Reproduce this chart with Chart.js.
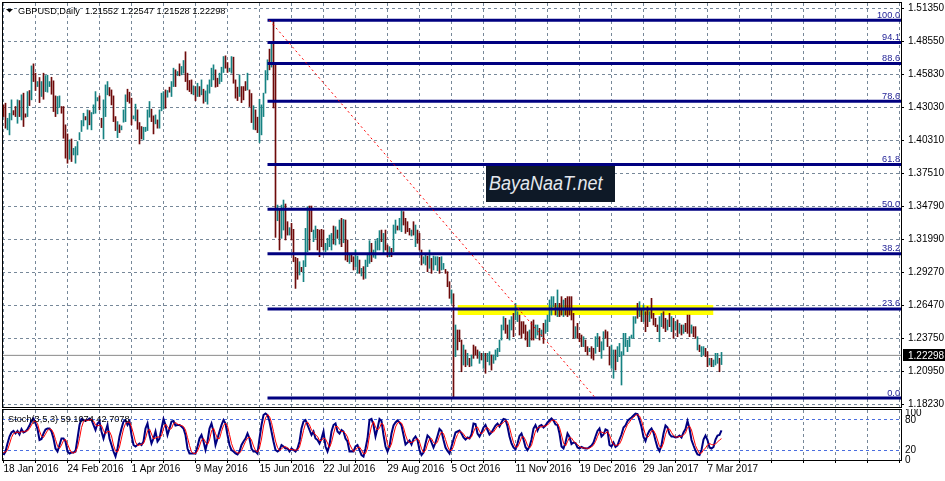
<!DOCTYPE html>
<html>
<head>
<meta charset="utf-8">
<script src="https://cdn.jsdelivr.net/npm/chart.js@4.4.1/dist/chart.umd.min.js"></script>
<style>
html,body{margin:0;padding:0;background:#fff;overflow:hidden;}
#wrap{position:relative;width:945px;height:481px;background:#fff;}
#main{position:absolute;left:0;top:0;}
#stoch{position:absolute;left:0;top:409px;}
#logo{position:absolute;left:486px;top:166px;width:129px;height:36px;background:#0e1927;overflow:hidden;}
#logo span{position:absolute;left:3px;top:6px;font:italic 20px "Liberation Sans",Arial,sans-serif;color:#e4e8ee;transform:scaleX(.9);transform-origin:left top;white-space:nowrap;}
</style>
</head>
<body>
<div id="wrap">
  <canvas id="main" width="945" height="409"></canvas>
  <canvas id="stoch" width="945" height="72"></canvas>
  <div id="logo"><span>BayaNaaT.net</span></div>
</div>
<script>
// ── DATA ──────────────────────────────────────────────────────
// one daily bar per index, bar 0 = 18 Jan 2016 (sunday bars included)
var highs=[
1.4325,1.4339,1.4213,1.4255,1.4367,1.4277,1.4311,1.4367,1.4361,1.4409,
1.4423,1.4250,1.4436,1.4445,1.4651,1.4668,1.4590,1.4520,1.4554,1.4520,
1.4590,1.4570,1.4573,1.4520,1.4556,1.4526,1.4400,1.4395,1.4400,1.4311,
1.4311,1.4158,1.4082,1.4032,1.4040,1.3962,1.3976,1.4018,1.4093,1.4194,
1.4255,1.4227,1.4283,1.4277,1.4261,1.4325,1.4436,1.4386,1.4400,1.4213,
1.4367,1.4492,1.4520,1.4470,1.4450,1.4400,1.4227,1.4185,1.4158,1.4149,
1.4283,1.4409,1.4456,1.4431,1.4381,1.4233,1.4331,1.4283,1.4177,1.4144,
1.4138,1.4138,1.4283,1.4353,1.4289,1.4233,1.4241,1.4199,1.4283,1.4423,
1.4436,1.4450,1.4445,1.4473,1.4520,1.4632,1.4618,1.4604,1.4668,1.4646,
1.4696,1.4769,1.4590,1.4529,1.4534,1.4484,1.4478,1.4506,1.4478,1.4534,
1.4456,1.4442,1.4492,1.4534,1.4632,1.4660,1.4618,1.4548,1.4590,1.4640,
1.4729,1.4735,1.4679,1.4632,1.4729,1.4724,1.4534,1.4473,1.4576,1.4478,
1.4478,1.4520,1.4590,1.4450,1.4420,1.4318,1.4283,1.4222,1.4372,1.4325,
1.4423,1.4612,1.4702,1.4791,1.4842,1.5026,1.4658,1.3487,1.3460,1.3487,
1.3529,1.3496,1.3348,1.3298,1.3334,1.3284,1.3050,1.3041,1.3013,1.2966,
1.3022,1.3292,1.3473,1.3479,1.3479,1.3278,1.3312,1.3284,1.3278,1.3284,
1.3278,1.3167,1.3209,1.3236,1.3250,1.3312,1.3306,1.3278,1.3362,1.3376,
1.3367,1.3362,1.3195,1.3069,1.3069,1.3055,1.3111,1.3061,1.3027,1.2958,
1.2972,1.3027,1.3083,1.3189,1.3167,1.3111,1.3189,1.3209,1.3273,1.3278,
1.3250,1.3278,1.3153,1.3139,1.3125,1.3320,1.3362,1.3312,1.3376,1.3440,
1.3432,1.3376,1.3348,1.3292,1.3278,1.3348,1.3320,1.3278,1.3250,1.3111,
1.3055,1.3083,1.3061,1.3111,1.3041,1.3061,1.3055,1.3055,1.3050,1.3055,
1.2999,1.2949,1.2930,1.2846,1.2777,1.2745,1.2484,1.2442,1.2442,1.2358,
1.2316,1.2275,1.2247,1.2205,1.2233,1.2316,1.2303,1.2275,1.2261,1.2247,
1.2247,1.2247,1.2247,1.2261,1.2233,1.2233,1.2275,1.2289,1.2358,1.2484,
1.2554,1.2540,1.2484,1.2526,1.2554,1.2581,1.2665,1.2595,1.2567,1.2512,
1.2512,1.2484,1.2428,1.2442,1.2512,1.2526,1.2484,1.2484,1.2456,1.2442,
1.2498,1.2526,1.2567,1.2693,1.2721,1.2721,1.2665,1.2777,1.2665,1.2721,
1.2693,1.2707,1.2721,1.2721,1.2721,1.2581,1.2470,1.2498,1.2414,1.2400,
1.2386,1.2358,1.2303,1.2289,1.2303,1.2289,1.2386,1.2414,1.2386,1.2344,
1.2428,1.2442,1.2428,1.2303,1.2316,1.2275,1.2275,1.2303,1.2330,1.2261,
1.2414,1.2414,1.2358,1.2386,1.2400,1.2554,1.2554,1.2665,1.2679,1.2623,
1.2651,1.2595,1.2637,1.2595,1.2707,1.2581,1.2540,1.2484,1.2554,1.2581,
1.2595,1.2540,1.2526,1.2581,1.2554,1.2540,1.2512,1.2526,1.2498,1.2484,
1.2484,1.2498,1.2567,1.2567,1.2484,1.2470,1.2470,1.2386,1.2316,1.2303,
1.2303,1.2289,1.2261,1.2205,1.2205,1.2191,1.2247,1.2247,1.2205,1.22547];
var lows=[
1.4227,1.4130,1.4116,1.4074,1.4199,1.4241,1.4227,1.4171,1.4227,1.4199,
1.4144,1.4222,1.4227,1.4319,1.4367,1.4520,1.4445,1.4478,1.4344,1.4395,
1.4372,1.4436,1.4431,1.4478,1.4414,1.4269,1.4227,1.4250,1.4303,1.4255,
1.4046,1.3879,1.3837,1.3870,1.3851,1.3906,1.3837,1.3906,1.4032,1.4102,
1.4149,1.4199,1.4121,1.4158,1.4116,1.4250,1.4255,1.4358,1.4283,1.4135,
1.4040,1.4227,1.4409,1.4400,1.4325,1.4185,1.4110,1.4051,1.4093,1.4116,
1.4180,1.4185,1.4353,1.4339,1.4158,1.4208,1.4191,1.4121,1.3998,1.4040,
1.4032,1.4102,1.4110,1.4222,1.4185,1.4082,1.4166,1.4130,1.4130,1.4275,
1.4289,1.4297,1.4389,1.4431,1.4395,1.4478,1.4478,1.4570,1.4568,1.4576,
1.4590,1.4520,1.4450,1.4436,1.4417,1.4409,1.4361,1.4395,1.4395,1.4409,
1.4339,1.4353,1.4331,1.4423,1.4478,1.4534,1.4473,1.4478,1.4501,1.4520,
1.4596,1.4632,1.4596,1.4604,1.4590,1.4506,1.4381,1.4361,1.4395,1.4344,
1.4367,1.4445,1.4450,1.4311,1.4177,1.4120,1.4116,1.4093,1.4010,1.4074,
1.4227,1.4423,1.4534,1.4618,1.4641,1.4299,1.3217,1.3356,1.3111,1.3209,
1.3278,1.3195,1.3236,1.3236,1.3195,1.3013,1.2790,1.2866,1.2902,1.2930,
1.2846,1.2972,1.3097,1.3111,1.3264,1.3181,1.3209,1.3111,1.3055,1.3139,
1.3111,1.3097,1.3111,1.3139,1.3111,1.3161,1.3153,1.3209,1.3161,1.3139,
1.3172,1.3027,1.3013,1.2999,1.3013,1.2944,1.2972,1.2916,1.2916,1.2894,
1.2866,1.2874,1.2972,1.2999,1.3013,1.3050,1.3041,1.3111,1.3111,1.3181,
1.3083,1.3111,1.3055,1.3055,1.3055,1.3097,1.3250,1.3278,1.3278,1.3264,
1.3320,1.3250,1.3264,1.3236,1.3228,1.3236,1.3139,1.3167,1.3111,1.2986,
1.2999,1.2986,1.2930,1.2958,1.2916,1.2944,1.2986,1.2938,1.2916,1.2944,
1.2949,1.2916,1.2804,1.2707,1.2665,1.1876,1.2219,1.2275,1.2344,1.2093,
1.2149,1.2135,1.2149,1.2135,1.2141,1.2205,1.2233,1.2205,1.2163,1.2191,
1.2121,1.2080,1.2177,1.2149,1.2107,1.2163,1.2191,1.2219,1.2261,1.2358,
1.2442,1.2414,1.2372,1.2358,1.2442,1.2386,1.2526,1.2512,1.2400,1.2372,
1.2414,1.2358,1.2303,1.2303,1.2358,1.2358,1.2372,1.2400,1.2358,1.2386,
1.2330,1.2414,1.2428,1.2512,1.2567,1.2637,1.2567,1.2554,1.2554,1.2567,
1.2554,1.2567,1.2554,1.2567,1.2526,1.2372,1.2372,1.2372,1.2344,1.2303,
1.2303,1.2261,1.2233,1.2261,1.2205,1.2191,1.2247,1.2303,1.2261,1.2205,
1.2275,1.2372,1.2303,1.2149,1.2121,1.2038,1.2107,1.2177,1.2219,1.1982,
1.2233,1.2303,1.2261,1.2303,1.2372,1.2372,1.2498,1.2540,1.2554,1.2512,
1.2512,1.2428,1.2470,1.2512,1.2540,1.2484,1.2470,1.2428,1.2344,1.2470,
1.2456,1.2428,1.2442,1.2470,1.2428,1.2372,1.2442,1.2386,1.2414,1.2400,
1.2414,1.2428,1.2414,1.2386,1.2414,1.2386,1.2372,1.2275,1.2261,1.2219,
1.2233,1.2219,1.2135,1.2149,1.2135,1.2135,1.2149,1.2163,1.2093,1.21528];
// u = bar closed up, d = bar closed down
var dirs=('dduuuddudu'+'ddududdudu'+'duuuddduud'+'ddduduuuuu'+'ududuuuudd'+'uuuddddudu'+
  'uuddduuddd'+'uuuudduduu'+'ududuududu'+'uddddududu'+'duuuuudduu'+'udduudddud'+
  'dduddudduu'+'uuududdudu'+'udduddddud'+'uuudduuddd'+'duuuududud'+'uddudduudu'+
  'duuuduuuud'+'udduduuduu'+'ddddududdd'+'uududuuudu'+'udddududdd'+'udududddud'+
  'uduuduuuuu'+'udduuduudd'+'dddudduudu'+'duuuuududd'+'uddddduddd'+'uddudduudu'+
  'uddduuduuu'+'uuuuuuudud'+'uddudddduu'+'ddudududud'+'uddduddudu'+'udduduuudu').split('');

var stochMain=[
10,17,33,47,55,58,53,58,51,62, 55,57,62,69,79,83,73,62,40,42,
53,61,63,63,57,43,23,17,30,43, 43,37,17,13,15,15,17,43,70,82,
80,78,80,83,80,70,60,73,77,57, 43,57,70,43,30,17,7,23,47,63,
77,80,70,77,50,30,27,30,33,30, 37,63,73,50,33,43,57,37,43,63,
82,70,50,63,77,78,69,70,70,67, 63,50,23,13,13,13,13,27,43,50,
37,20,37,63,73,57,30,43,57,70, 80,73,50,30,20,17,13,11,17,30,
37,43,53,43,23,17,17,13,43,70, 90,93,90,77,57,37,20,17,20,30,
27,23,23,17,23,20,17,23,37,63, 77,80,70,60,50,57,43,40,33,43,
57,27,17,30,57,70,73,57,53,60, 57,43,37,17,17,17,27,30,20,10,
7,23,43,80,82,70,47,63,82,78, 50,27,17,27,53,69,75,79,75,69,
50,31,35,39,31,42,47,40,20,10, 15,33,49,45,35,25,35,48,62,58,
40,25,18,13,27,41,55,57,59,53, 45,41,45,43,51,73,72,53,47,55,
65,70,60,51,55,62,69,73,67,75, 82,81,67,47,33,25,21,33,48,53,
41,26,20,27,41,63,70,59,68,70, 65,69,75,79,83,79,71,70,53,27,
23,35,53,46,32,35,34,25,23,26, 24,23,23,26,29,35,47,58,63,47,
51,61,59,30,27,35,26,29,41,51, 65,69,78,82,85,89,93,92,80,66,
46,38,51,59,63,55,39,25,18,30, 53,69,65,52,47,47,45,46,49,45,
55,62,78,63,40,29,19,11,10,20, 41,49,40,25,23,26,41,49,50,59.1074];
var stochSignal=[
15,16,20,32,45,53,55,56,54,57, 56,58,58,63,70,77,78,73,58,48,
45,52,59,62,61,54,41,28,23,30, 39,41,32,22,15,14,16,25,43,65,
77,80,79,80,81,78,70,68,70,69, 59,52,57,57,48,30,18,16,26,44,
62,73,76,76,66,52,36,29,30,31, 33,43,58,62,52,42,44,46,46,48,
63,72,67,61,63,73,75,72,70,69, 67,60,45,29,16,13,13,18,28,40,
43,36,31,40,58,64,53,43,43,57, 69,74,68,51,33,22,17,14,14,19,
28,37,44,46,40,28,19,16,24,42, 68,84,91,87,75,57,38,25,19,22,
26,27,24,21,21,20,20,20,26,41, 59,73,76,70,60,56,50,47,39,39,
44,42,34,25,35,52,67,67,61,57, 57,53,46,32,24,17,20,25,26,20,
12,13,24,49,68,77,66,60,64,74, 70,52,31,24,32,50,66,74,76,74,
65,50,39,35,35,37,40,43,36,23, 15,19,32,42,43,35,32,36,48,56,
53,41,28,19,19,27,41,51,57,56, 52,46,44,43,46,56,65,66,57,52,
56,63,65,60,55,56,62,68,70,72, 75,79,77,65,49,35,26,26,34,45,
47,40,29,24,29,44,58,64,66,66, 68,68,70,74,79,80,78,73,65,50,
34,28,37,45,44,38,34,31,27,25, 24,24,23,24,26,30,37,47,56,56,
54,53,57,50,39,31,29,30,32,40, 52,62,71,76,82,85,89,91,88,79,
64,50,45,49,58,59,52,40,27,24, 34,51,62,62,55,49,46,46,47,47,
50,54,65,68,60,44,29,20,13,14, 20,24,30,33,31,30,32,36,40,42.7078];

var priceTicks=[1.51350,1.48550,1.45830,1.43030,1.40310,1.37510,1.34790,1.31990,1.29270,1.26470,1.23750,1.20950,1.18230];
var dateLabels=['18 Jan 2016','24 Feb 2016','1 Apr 2016','9 May 2016','15 Jun 2016','22 Jul 2016',
  '29 Aug 2016','5 Oct 2016','11 Nov 2016','19 Dec 2016','29 Jan 2017','7 Mar 2017'];
var stochTicks=[0,20,80,100];
var lastQuote=[1.21552,1.22547,1.21528,1.22298];   // O H L C of the last bar

// fibonacci tool: anchors, levels
var fibHigh=1.5032, fibLow=1.1873, fibStart=132;
var fibLevels=[0,23.6,38.2,50,61.8,78.6,88.6,94.1,100];
var trendFrom=[133,1.5032], trendTo=[296,1.1873];
var zoneX=[227,355], zoneY=[1.2568,1.2651];

// ── LOOK ──────────────────────────────────────────────────────
var UP='#168282', DN='#6e0a0a', GRID='#778899', FIB='#000080', FIBTXT='#1c1c94', LEVEL='#4a6ee0';
var FONT='"Liberation Sans", Arial, sans-serif';
var xMin=-0.75, xMax=448.75;
var gridIdx=[]; for(var g=0;g<=448;g+=16) gridIdx.push(g);

Chart.defaults.font.family=FONT;

function frame(ctx,x,y,w,h){
  ctx.fillStyle='#000';
  ctx.fillRect(x,y,w,1); ctx.fillRect(x,y+h,w,1);
  ctx.fillRect(x,y,1,h+1); ctx.fillRect(x+w,y,1,h+1);
}
// keep the plot area exactly where MT4 has it: no extra room for edge labels
function noPad(s){ s.paddingTop=0; s.paddingBottom=0; s.paddingLeft=0; s.paddingRight=0; }

// ── MAIN PANE ─────────────────────────────────────────────────
var fibSets=fibLevels.map(function(l){
  var p=fibLow+(fibHigh-fibLow)*l/100;
  return {type:'line',data:[{x:fibStart,y:p},{x:xMax,y:p}],borderColor:FIB,borderWidth:3,
    pointRadius:0,borderCapStyle:'butt',order:2};
});

var mainPlugin={
  id:'mainDeco',
  afterDraw:function(c){
    var ctx=c.ctx, a=c.chartArea, ys=c.scales.y;
    ctx.save();
    frame(ctx,2,2,899,405);
    // fib level captions
    ctx.font='9.2px '+FONT; ctx.fillStyle=FIBTXT; ctx.textAlign='right'; ctx.textBaseline='alphabetic';
    fibLevels.forEach(function(l){
      var y=ys.getPixelForValue(fibLow+(fibHigh-fibLow)*l/100);
      ctx.fillText(l.toFixed(1),a.right-1,y-2.5);
    });
    // title
    ctx.fillStyle='#000';
    ctx.beginPath(); ctx.moveTo(6,9); ctx.lineTo(13,9); ctx.lineTo(9.5,12.5); ctx.closePath(); ctx.fill();
    ctx.textAlign='left';
    ctx.fillText('GBPUSD,Daily  '+lastQuote.map(function(v){return v.toFixed(5);}).join(' '),18,14);
    // current price tag
    var py=ys.getPixelForValue(lastQuote[3]);
    ctx.fillRect(903,Math.round(py)-6,42,12);
    ctx.fillStyle='#fff'; ctx.font='10px '+FONT; ctx.textBaseline='middle';
    ctx.fillText(lastQuote[3].toFixed(5),908,py+0.5);
    ctx.restore();
  }
};

new Chart(document.getElementById('main'),{
  type:'bar',
  data:{datasets:[
    {type:'line',data:[{x:zoneX[0],y:zoneY[1]},{x:zoneX[1],y:zoneY[1]}],fill:{value:zoneY[0]},
      backgroundColor:'#ffff00',borderWidth:0,pointRadius:0,order:5},
    {type:'line',data:[{x:xMin,y:lastQuote[3]},{x:xMax,y:lastQuote[3]}],borderColor:'#8a8a8a',
      borderWidth:1,pointRadius:0,order:4},
    {type:'bar',data:highs.map(function(h,i){return {x:i,y:[lows[i],h]};}),
      backgroundColor:dirs.map(function(d){return d==='u'?UP:DN;}),
      barThickness:1,borderWidth:0,borderSkipped:false,order:3}
  ].concat(fibSets).concat([
    {type:'line',data:[{x:trendFrom[0],y:trendFrom[1]},{x:trendTo[0],y:trendTo[1]}],borderColor:'#ff0000',
      borderWidth:1,borderDash:[2,3],pointRadius:0,order:1}
  ])},
  options:{
    responsive:false,animation:false,events:[],
    layout:{padding:{left:2,top:3,right:0,bottom:2}},
    plugins:{legend:{display:false},tooltip:{enabled:false}},
    scales:{
      x:{type:'linear',min:xMin,max:xMax,offset:false,
        afterBuildTicks:function(s){s.ticks=gridIdx.map(function(v){return {value:v};});},
        afterFit:function(s){s.height=0; noPad(s);},
        ticks:{display:false},
        grid:{color:GRID,drawTicks:false,offset:false},
        border:{display:false,dash:[3,3]}},
      y:{position:'right',min:1.1798,max:1.5177,beginAtZero:false,
        afterBuildTicks:function(s){s.ticks=priceTicks.map(function(v){return {value:v};});},
        afterFit:function(s){s.width=44; noPad(s);},
        ticks:{autoSkip:false,padding:4,color:'#000',font:{size:10},
          callback:function(v){return Number(v).toFixed(5);}},
        grid:{color:GRID,tickLength:3,tickColor:'#000',tickBorderDash:[]},
        border:{display:false,dash:[3,3]}}
    }
  },
  plugins:[mainPlugin]
});

// ── STOCHASTIC PANE ───────────────────────────────────────────
var stochPlugin={
  id:'stochDeco',
  afterDraw:function(c){
    var ctx=c.ctx, ys=c.scales.y;
    ctx.save();
    frame(ctx,2,0,899,51);
    ctx.fillStyle='#000'; ctx.font='9.2px '+FONT; ctx.textAlign='left'; ctx.textBaseline='alphabetic';
    ctx.fillText('Stoch(3,5,3) '+stochMain[stochMain.length-1].toFixed(4)+' '+stochSignal[stochSignal.length-1].toFixed(4),8,13);
    ctx.font='10px '+FONT; ctx.textBaseline='middle';
    var pos={100:4,80:11,20:40,0:46};
    stochTicks.forEach(function(t){ ctx.fillText(String(t),905,Math.max(pos[t],ys.getPixelForValue(t)-0)); });
    ctx.restore();
  }
};

new Chart(document.getElementById('stoch'),{
  type:'line',
  data:{datasets:[
    {data:stochSignal.map(function(v,i){return {x:i,y:v};}),borderColor:'#ff0000',borderWidth:1,pointRadius:0,order:0},
    {data:stochMain.map(function(v,i){return {x:i,y:v};}),borderColor:'#000080',borderWidth:2,pointRadius:0,order:1}
  ]},
  options:{
    responsive:false,animation:false,events:[],
    layout:{padding:{left:2,top:1,right:0,bottom:0}},
    plugins:{legend:{display:false},tooltip:{enabled:false}},
    scales:{
      x:{type:'linear',min:xMin,max:xMax,offset:false,
        afterBuildTicks:function(s){s.ticks=gridIdx.map(function(v){return {value:v};});},
        afterFit:function(s){s.height=21; noPad(s);},
        ticks:{align:'start',padding:0,maxRotation:0,autoSkip:false,color:'#000',font:{size:10},
          callback:function(v){return v%32===0?(dateLabels[v/32]||''):'';}},
        grid:{color:GRID,tickLength:3,tickColor:'#000',tickBorderDash:[]},
        border:{display:false,dash:[3,3]}},
      y:{position:'right',min:0,max:100,
        afterBuildTicks:function(s){s.ticks=stochTicks.map(function(v){return {value:v};});},
        afterFit:function(s){s.width=44; noPad(s);},
        ticks:{display:false},
        grid:{drawTicks:false,color:function(c){return (c.tick&&(c.tick.value===20||c.tick.value===80))?LEVEL:'rgba(0,0,0,0)';}},
        border:{display:false,dash:[3,3]}}
    }
  },
  plugins:[stochPlugin]
});
</script>
</body>
</html>
